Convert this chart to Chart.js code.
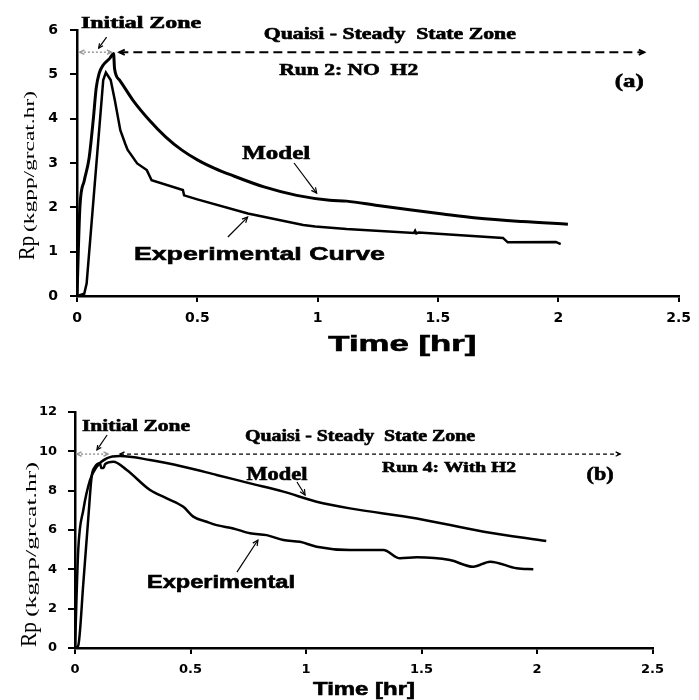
<!DOCTYPE html>
<html>
<head>
<meta charset="utf-8">
<title>Rp vs Time</title>
<script src="https://cdn.jsdelivr.net/npm/chart.js@4.4.1/dist/chart.umd.min.js"></script>
<style>
  body { margin: 0; background: #fff; }
  .panel { position: absolute; left: 0; width: 699px; }
  #panelA { top: 0; height: 360px; }
  #panelB { top: 360px; height: 340px; }
</style>
</head>
<body>
<div class="panel" id="panelA"><canvas id="chartA"></canvas></div>
<div class="panel" id="panelB"><canvas id="chartB"></canvas></div>
<script>
// Run 2: no H2 (panel a)
const timeModelA = [0, 0.012, 0.03, 0.05, 0.068, 0.08, 0.092, 0.109, 0.136, 0.152, 0.156, 0.177, 0.232, 0.3, 0.368, 0.436, 0.504, 0.572, 0.64, 0.777, 0.913, 1.05, 1.12, 1.25, 1.39, 1.52, 1.66, 1.85, 2.04];
const rateModelA = [0, 2.0, 2.6, 3.1, 4.0, 4.7, 5.02, 5.21, 5.36, 5.47, 5.13, 4.87, 4.42, 3.97, 3.59, 3.29, 3.06, 2.88, 2.73, 2.46, 2.27, 2.16, 2.14, 2.04, 1.94, 1.85, 1.76, 1.68, 1.62];
const timeExpA = [0, 0.03, 0.04, 0.109, 0.12, 0.14, 0.157, 0.18, 0.2, 0.21, 0.25, 0.29, 0.31, 0.44, 0.445, 0.5, 0.71, 0.94, 0.99, 1.12, 1.4, 1.405, 1.41, 1.42, 1.77, 1.79, 1.99, 2.01];
const rateExpA = [0, 0.05, 0.28, 4.87, 5.04, 4.87, 4.42, 3.74, 3.44, 3.3, 2.99, 2.84, 2.61, 2.39, 2.27, 2.18, 1.86, 1.6, 1.57, 1.51, 1.42, 1.47, 1.41, 1.43, 1.31, 1.21, 1.22, 1.17];

// Run 4: with H2 (panel b)
const timeModelB = [0, 0.014, 0.036, 0.065, 0.094, 0.137, 0.195, 0.325, 0.469, 0.613, 0.758, 0.902, 1.046, 1.19, 1.48, 1.77, 2.04];
const rateModelB = [0, 4.98, 7.02, 8.54, 9.22, 9.64, 9.76, 9.56, 9.22, 8.8, 8.37, 7.95, 7.44, 7.1, 6.59, 5.91, 5.44];
const timeExpB = [0, 0.014, 0.036, 0.058, 0.072, 0.087, 0.108, 0.114, 0.124, 0.13, 0.166, 0.224, 0.325, 0.397, 0.469, 0.512, 0.57, 0.613, 0.685, 0.758, 0.83, 0.902, 0.974, 1.046, 1.19, 1.335, 1.407, 1.48, 1.623, 1.724, 1.797, 1.912, 1.984];
const rateExpB = [0, 0.13, 3.29, 6.68, 8.71, 9.22, 9.39, 9.15, 9.15, 9.35, 9.47, 9.05, 8.03, 7.61, 7.18, 6.68, 6.42, 6.25, 6.08, 5.83, 5.74, 5.49, 5.4, 5.15, 4.98, 4.98, 4.56, 4.61, 4.47, 4.13, 4.39, 4.05, 4.0];

const timeTicks = [0, 0.5, 1, 1.5, 2, 2.5];
const rateTicksA = [0, 1, 2, 3, 4, 5, 6];
const rateTicksB = [0, 2, 4, 6, 8, 10, 12];

const SERIF = '"Liberation Serif", "Times New Roman", serif';
const SANS = '"Liberation Sans", Arial, sans-serif';

function toPoints(t, r) {
    return t.map((x, i) => ({ x: x, y: r[i] }));
}

// text squeezed/stretched to the width it has in the figure
function drawText(ctx, x, y, t) {
    ctx.save();
    ctx.font = 'bold ' + t.size + 'px ' + (t.serif ? SERIF : SANS);
    ctx.fillStyle = '#000';
    ctx.strokeStyle = '#000';
    ctx.lineWidth = 0.6;
    ctx.textAlign = 'center';
    ctx.textBaseline = 'middle';
    const w = ctx.measureText(t.text).width;
    ctx.translate(x, y);
    ctx.scale(t.width / w, 1);
    ctx.fillText(t.text, 0, 0);
    ctx.strokeText(t.text, 0, 0);
    ctx.restore();
}

function drawArrow(ctx, x1, y1, x2, y2, a) {
    ctx.save();
    ctx.strokeStyle = a.color || '#000';
    ctx.lineWidth = a.lw || 1.2;
    ctx.setLineDash(a.dash || []);
    ctx.beginPath();
    ctx.moveTo(x1, y1);
    ctx.lineTo(x2, y2);
    ctx.stroke();
    ctx.setLineDash([]);
    const L = a.head || 6;
    const head = (fx, fy, tx, ty) => {
        const ang = Math.atan2(ty - fy, tx - fx);
        ctx.beginPath();
        ctx.moveTo(tx - L * Math.cos(ang - 0.45), ty - L * Math.sin(ang - 0.45));
        ctx.lineTo(tx, ty);
        ctx.lineTo(tx - L * Math.cos(ang + 0.45), ty - L * Math.sin(ang + 0.45));
        ctx.stroke();
    };
    head(x1, y1, x2, y2);
    if (a.both) head(x2, y2, x1, y1);
    ctx.restore();
}

function drawYTitle(ctx, t) {
    ctx.save();
    ctx.translate(t.x, t.y);
    ctx.rotate(-Math.PI / 2);
    ctx.fillStyle = '#000';
    ctx.textAlign = 'left';
    ctx.textBaseline = 'alphabetic';
    ctx.font = t.rpSize + 'px ' + SERIF;
    const w1 = ctx.measureText('Rp').width;
    ctx.save();
    ctx.scale(t.rpWidth / w1, 1);
    ctx.fillText('Rp', 0, 0);
    ctx.restore();
    ctx.font = t.unitSize + 'px ' + SERIF;
    const w2 = ctx.measureText('(kgpp/grcat.hr)').width;
    ctx.translate(t.rpWidth + t.gap, 0);
    ctx.scale(t.unitWidth / w2, 1);
    ctx.fillText('(kgpp/grcat.hr)', 0, 0);
    ctx.restore();
}

const notesPlugin = {
    id: 'notes',
    afterDraw(chart, args, opts) {
        const ctx = chart.ctx;
        const px = v => chart.scales.x.getPixelForValue(v);
        const py = v => chart.scales.y.getPixelForValue(v);
        (opts.arrows || []).forEach(a => drawArrow(ctx, px(a.x1), py(a.y1), px(a.x2), py(a.y2), a));
        (opts.labels || []).forEach(t => drawText(ctx, px(t.x), py(t.y), t));
        if (opts.yTitle) drawYTitle(ctx, opts.yTitle);
    }
};

function makeChart(id, cfg) {
    return new Chart(document.getElementById(id), {
        type: 'line',
        data: {
            datasets: [{
                label: 'Model',
                data: toPoints(cfg.modelT, cfg.modelR),
                borderColor: '#000',
                borderWidth: cfg.modelWidth,
                cubicInterpolationMode: 'monotone',
                fill: false
            }, {
                label: 'Experimental',
                data: toPoints(cfg.expT, cfg.expR),
                borderColor: '#000',
                borderWidth: cfg.expWidth,
                cubicInterpolationMode: cfg.expSmooth ? 'monotone' : 'default',
                tension: 0,
                fill: false
            }]
        },
        options: {
            responsive: true,
            maintainAspectRatio: false,
            animation: false,
            layout: { padding: cfg.padding },
            elements: { point: { radius: 0 } },
            plugins: {
                legend: { display: false },
                tooltip: { enabled: false },
                notes: cfg.notes
            },
            scales: {
                x: {
                    type: 'linear',
                    min: 0,
                    max: 2.5,
                    afterBuildTicks: s => { s.ticks = timeTicks.map(v => ({ value: v })); },
                    afterFit: s => { s.height = cfg.xAxisHeight; },
                    grid: { drawOnChartArea: false, color: '#000', lineWidth: 2, tickLength: 6 },
                    border: { color: '#000', width: 2.5 },
                    ticks: {
                        color: '#000',
                        padding: cfg.xTickPad,
                        maxRotation: 0,
                        font: { family: 'DejaVu Sans', weight: 'bold', size: cfg.tickSize },
                        callback: v => String(v)
                    }
                },
                y: {
                    min: 0,
                    max: cfg.yTicks[cfg.yTicks.length - 1],
                    afterBuildTicks: s => { s.ticks = cfg.yTicks.map(v => ({ value: v })); },
                    afterFit: s => { s.width = cfg.yAxisWidth; },
                    grid: { drawOnChartArea: false, color: '#000', lineWidth: 2, tickLength: 7 },
                    border: { color: '#000', width: 2.5 },
                    ticks: {
                        color: '#000',
                        padding: cfg.yTickPad,
                        font: { family: 'DejaVu Sans', weight: 'bold', size: cfg.tickSize },
                        callback: v => String(v)
                    }
                }
            }
        },
        plugins: [notesPlugin]
    });
}

// Panel (a)
makeChart('chartA', {
    modelT: timeModelA, modelR: rateModelA, modelWidth: 3,
    expT: timeExpA, expR: rateExpA, expWidth: 2.5, expSmooth: false,
    yTicks: rateTicksA,
    padding: { left: 0, top: 30, right: 12, bottom: 0 },
    xAxisHeight: 64, yAxisWidth: 77, xTickPad: 8, yTickPad: 12, tickSize: 14,
    notes: {
        labels: [
            { text: 'Initial Zone', x: 0.266, y: 6.14, size: 16, serif: true, width: 120 },
            { text: 'Quaisi - Steady  State Zone', x: 1.3, y: 5.89, size: 16, serif: true, width: 252 },
            { text: 'Run 2: NO  H2', x: 1.129, y: 5.08, size: 16, serif: true, width: 139 },
            { text: '(a)', x: 2.295, y: 4.83, size: 18, serif: true, width: 29 },
            { text: 'Model', x: 0.828, y: 3.2, size: 19, serif: true, width: 68 },
            { text: 'Experimental Curve', x: 0.758, y: 0.925, size: 19, serif: false, width: 251 },
            { text: 'Time [hr]', x: 1.352, y: -1.105, size: 22, serif: false, width: 148 }
        ],
        arrows: [
            { x1: 0.123, y1: 5.84, x2: 0.09, y2: 5.59, lw: 1.2, head: 5 },
            { x1: 0.012, y1: 5.5, x2: 0.143, y2: 5.5, both: true, color: '#9a9a9a', dash: [2, 2], lw: 1.5, head: 5 },
            { x1: 0.176, y1: 5.5, x2: 2.357, y2: 5.5, both: true, dash: [9, 5], lw: 2, head: 6 },
            { x1: 0.902, y1: 3.0, x2: 0.996, y2: 2.32, lw: 1.2, head: 6 },
            { x1: 0.627, y1: 1.33, x2: 0.709, y2: 1.78, lw: 1.2, head: 6 }
        ],
        yTitle: { x: 34, y: 260, rpSize: 23, rpWidth: 24, gap: 4, unitSize: 15, unitWidth: 141 }
    }
});

// Panel (b)
makeChart('chartB', {
    modelT: timeModelB, modelR: rateModelB, modelWidth: 2.5,
    expT: timeExpB, expR: rateExpB, expWidth: 2.5, expSmooth: true,
    yTicks: rateTicksB,
    padding: { left: 0, top: 52, right: 46.5, bottom: 0 },
    xAxisHeight: 52, yAxisWidth: 75, xTickPad: 8, yTickPad: 11, tickSize: 13,
    notes: {
        labels: [
            { text: 'Initial Zone', x: 0.264, y: 11.24, size: 16, serif: true, width: 108 },
            { text: 'Quaisi - Steady  State Zone', x: 1.234, y: 10.73, size: 16, serif: true, width: 230 },
            { text: 'Run 4: With H2', x: 1.619, y: 9.15, size: 15, serif: true, width: 134 },
            { text: '(b)', x: 2.273, y: 8.8, size: 18, serif: true, width: 27 },
            { text: 'Model', x: 0.874, y: 8.8, size: 18, serif: true, width: 61 },
            { text: 'Experimental', x: 0.632, y: 3.3, size: 18, serif: false, width: 148 },
            { text: 'Time [hr]', x: 1.251, y: -2.135, size: 18, serif: false, width: 102 }
        ],
        arrows: [
            { x1: 0.139, y1: 10.83, x2: 0.095, y2: 10.07, lw: 1.2, head: 5 },
            { x1: 0.009, y1: 9.86, x2: 0.143, y2: 9.86, both: true, color: '#9a9a9a', dash: [2, 2], lw: 1.5, head: 5 },
            { x1: 0.195, y1: 9.86, x2: 2.36, y2: 9.86, both: true, dash: [4, 3], lw: 1.3, head: 5 },
            { x1: 0.961, y1: 8.44, x2: 0.996, y2: 7.78, lw: 1.2, head: 6 },
            { x1: 0.701, y1: 3.86, x2: 0.792, y2: 5.49, lw: 1.2, head: 6 }
        ],
        yTitle: { x: 36, y: 287, rpSize: 24, rpWidth: 25, gap: 5, unitSize: 15, unitWidth: 155 }
    }
});
</script>
</body>
</html>
